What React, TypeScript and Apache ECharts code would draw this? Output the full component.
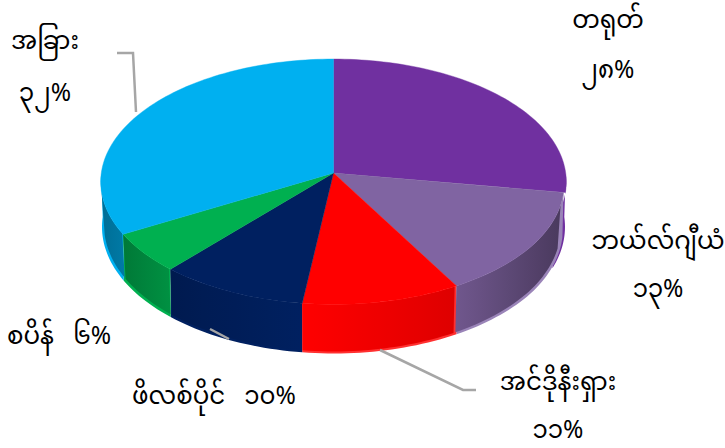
import React, { useEffect, useRef } from "react";
import * as echarts from "echarts";

const categories = ["တရုတ်", "ဘယ်လ်ဂျီယံ", "အင်ဒိုနီးရှား", "ဖိလစ်ပိုင်", "စပိန်", "အခြား"];
const values = [28, 13, 11, 10, 6, 32];
const percentLabels = ["၂၈%", "၁၃%", "၁၁%", "၁၀%", "၆%", "၃၂%"];
const colors = ["#7030a0", "#8064a2", "#ff0000", "#002060", "#00b050", "#00b0f0"];
const rimColors = ["#7030a0", "#9a84b8", "#ff3030", "#002060", "#00b050", "#00b0f0"];

const FONT = '"Noto Sans Myanmar", "Myanmar Text", Padauk, "Noto Sans", "DejaVu Sans", sans-serif';

// Projection of the tilted disc
const CX = 333.5, CY = 173, A = 232.2, B = 122.1, K = 0.0713;
const warpKnots: number[][] = [[0, 0], [100, -1.8], [147.6, 2.6], [187, 0], [223, -1.5], [245, -3.8], [360, 0]];

function warp(t: number) {
  for (let i = 1; i < warpKnots.length; i++) {
    const [a, da] = warpKnots[i - 1];
    const [b, db] = warpKnots[i];
    if (t <= b) return t + da + ((t - a) / (b - a)) * (db - da);
  }
  return t;
}
function project(t: number) {
  const r = (t * Math.PI) / 180;
  const u = Math.sin(r), v = -Math.cos(r);
  const d = 1 - K * v;
  return { x: CX + (A * u) / d, y: CY + (B * v) / d, v };
}
// Rim point of a slice other than the first is drawn slightly inside on the right,
// leaving the first slice's edge visible there.
function rim(t: number, i: number) {
  const p = project(t);
  const pull = i !== 0 && t >= 90 && t < 125 ? 2.5 * (1 - (t - 90) / 35) : 0;
  return [p.x - pull, p.y];
}
function bottom(t: number, i: number, inset = 0) {
  const p = project(t);
  const f = 1 - 0.006 * (1 - p.v);
  const dep = 44 + 5 * Math.max(0, p.v);
  const pull = i !== 0 && t >= 90 && t < 125 ? 2.5 * (1 - (t - 90) / 35) : 0;
  return [CX + (p.x - CX) * f * (1 - inset / A) - pull, p.y + dep - inset];
}
function range(a: number, b: number) {
  const out: number[] = [];
  const n = Math.max(2, Math.ceil((b - a) / 1.5));
  for (let i = 0; i <= n; i++) out.push(a + ((b - a) * i) / n);
  return out;
}
const total = values.reduce((s, v) => s + v, 0);
function sliceAngles(i: number) {
  let c = 0;
  for (let j = 0; j < i; j++) c += values[j];
  return [warp((c / total) * 360), warp(((c + values[i]) / total) * 360)];
}
function shade(x: number) {
  const pts = [[100, 0.62], [124, 0.69], [172, 0.83], [303, 1], [457, 0.87], [561, 0.58]];
  if (x <= pts[0][0]) return pts[0][1];
  for (let i = 1; i < pts.length; i++) {
    if (x <= pts[i][0]) {
      const [a, ma] = pts[i - 1];
      const [b, mb] = pts[i];
      return ma + ((x - a) / (b - a)) * (mb - ma);
    }
  }
  return pts[pts.length - 1][1];
}
function darken(hex: string, m: number) {
  const n = parseInt(hex.slice(1), 16);
  const c = [(n >> 16) & 255, (n >> 8) & 255, n & 255].map((q) => Math.round(q * m));
  return `rgb(${c[0]},${c[1]},${c[2]})`;
}

function renderBase(params: any) {
  const i = params.dataIndex;
  const [t0, t1] = sliceAngles(i);
  const a = Math.max(t0, 90), b = Math.min(i === 0 ? t1 + 14 : t1, 270);
  if (a >= b) return { type: "group", children: [] };
  const top = range(a, b).map((t) => rim(t, i));
  const bot = range(a, b).reverse().map((t) => bottom(t, i));
  return {
    type: "polygon",
    silent: true,
    shape: { points: [...top, ...bot] },
    style: { fill: rimColors[i] },
  };
}
function renderWall(params: any) {
  const i = params.dataIndex;
  const [t0, t1] = sliceAngles(i);
  const a = Math.max(t0 + 0.5, 105), b = Math.min(t1, 261);
  if (a >= b) return { type: "group", children: [] };
  const top = range(a, b).map((t) => rim(t, i));
  const bot = range(a, b).reverse().map((t) => bottom(t, i, 2));
  const pts = [...top, ...bot];
  const xs = pts.map((p) => p[0]);
  const x0 = Math.min(...xs), x1 = Math.max(...xs);
  const stops = [0, 0.25, 0.5, 0.75, 1].map((o) => ({
    offset: o,
    color: darken(colors[i], shade(x0 + (x1 - x0) * o)),
  }));
  return {
    type: "polygon",
    silent: true,
    shape: { points: pts },
    style: { fill: new echarts.graphic.LinearGradient(0, 0, 1, 0, stops) },
  };
}
function renderTop(params: any) {
  const i = params.dataIndex;
  const [t0, t1] = sliceAngles(i);
  const pts = range(t0, t1).map((t) => rim(t, i));
  return {
    type: "polygon",
    silent: true,
    shape: { points: [[CX, CY], ...pts] },
    style: { fill: colors[i], stroke: colors[i], lineWidth: 0.4 },
  };
}

const labelLayout = [
  { i: 0, x: 608, y1: 22, y2: 72 },
  { i: 1, x: 658, y1: 243, y2: 291 },
  { i: 2, x: 558, y1: 384, y2: 432 },
  { i: 5, x: 45, y1: 43, y2: 95 },
];

export default function App() {
  const ref = useRef<HTMLDivElement>(null);
  useEffect(() => {
    const chart = echarts.init(ref.current!, undefined, { renderer: "svg" });
    const seriesData = values.map((v, i) => ({ name: categories[i], value: v }));
    const textStyle = (text: string, x: number, y: number, align = "center") => ({
      type: "text", x, y, silent: true, z: 20,
      style: { text, font: `24.5px ${FONT}`, fill: "#000", align, verticalAlign: "middle" },
    });
    const line = (points: number[][]) => ({
      type: "polyline", silent: true, z: 10,
      shape: { points },
      style: { stroke: "#a6a6a6", lineWidth: 2.5, fill: "none" },
    });
    const elements: any[] = [
      line([[117, 53], [133, 53], [136, 112]]),
      line([[380, 350], [463, 390], [476, 390]]),
      line([[210, 329], [229, 339]]),
    ];
    labelLayout.forEach((l) => {
      elements.push(textStyle(categories[l.i], l.x, l.y1));
      elements.push(textStyle(percentLabels[l.i], l.x, l.y2));
    });
    elements.push(textStyle(`${categories[4]}   ${percentLabels[4]}`, 59, 338));
    elements.push(textStyle(`${categories[3]}   ${percentLabels[3]}`, 214, 398));
    chart.setOption({
      animation: false,
      backgroundColor: "#fff",
      series: [
        { type: "custom", coordinateSystem: "none", renderItem: renderBase, data: seriesData, silent: true, z: 1 },
        { type: "custom", coordinateSystem: "none", renderItem: renderWall, data: seriesData, silent: true, z: 2 },
        { type: "custom", coordinateSystem: "none", renderItem: renderTop, data: seriesData, silent: true, z: 3 },
      ],
      graphic: { elements },
    });
    return () => chart.dispose();
  }, []);
  return <div ref={ref} style={{ position: "absolute", left: 0, top: 0, width: 725, height: 448 }} />;
}
